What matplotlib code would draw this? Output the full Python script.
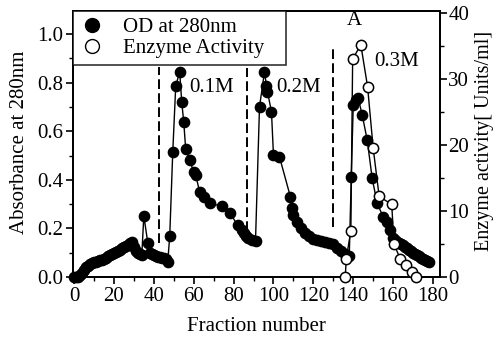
import matplotlib
matplotlib.use("Agg")
import matplotlib.pyplot as plt
from matplotlib.ticker import MultipleLocator
from matplotlib.lines import Line2D

plt.rcParams['font.family'] = ['Liberation Serif', 'DejaVu Serif']

# OD at 280 nm (left axis)
od_frac = [0, 1, 2, 3, 4, 5, 6, 7, 8, 9, 10, 11, 12, 13, 14, 15, 16, 17, 18, 19,
           20, 21, 22, 23, 24, 25, 26, 27, 28, 29, 30, 31, 32, 33, 34, 35, 37, 38, 39,
           40, 41, 42, 43, 44, 45, 46, 47, 48, 49.5, 51, 53, 54, 55, 56, 58, 60, 61,
           63, 65, 68, 74, 78, 82, 84, 85, 86, 87, 89, 91, 93, 95.5, 96.5, 97, 99,
           100, 103, 108.5, 109.5, 110, 112, 114, 116, 118, 120, 122, 124, 126, 128,
           130, 132, 134, 136, 138, 139, 140, 141.5, 142.5, 144.5, 147, 149.5, 152,
           155, 157, 158.5, 160, 161, 162, 163, 164, 165, 166, 167, 168, 169, 170,
           171, 172, 173, 174, 175, 176, 177, 178]
od_vals = [0.0, 0.0, 0.0, 0.008, 0.018, 0.03, 0.04, 0.046, 0.052, 0.056, 0.060,
           0.063, 0.066, 0.069, 0.072, 0.076, 0.080, 0.085, 0.090, 0.095, 0.100,
           0.104, 0.108, 0.113, 0.118, 0.123, 0.128, 0.133, 0.138, 0.143, 0.125,
           0.108, 0.098, 0.093, 0.092, 0.252, 0.14, 0.10, 0.095, 0.09, 0.087, 0.084,
           0.081, 0.079, 0.077, 0.074, 0.062, 0.17, 0.513, 0.786, 0.845, 0.72, 0.64,
           0.525, 0.48, 0.433, 0.42, 0.35, 0.33, 0.303, 0.292, 0.265, 0.214, 0.193,
           0.18, 0.17, 0.16, 0.152, 0.15, 0.70, 0.845, 0.786, 0.763, 0.68, 0.502,
           0.495, 0.33, 0.283, 0.255, 0.228, 0.20, 0.183, 0.168, 0.158, 0.152, 0.147,
           0.143, 0.14, 0.135, 0.12, 0.105, 0.095, 0.085, 0.41, 0.708, 0.728, 0.735,
           0.667, 0.564, 0.406, 0.303, 0.248, 0.228, 0.193, 0.16, 0.152, 0.146, 0.14,
           0.135, 0.13, 0.124, 0.118, 0.112, 0.106, 0.10, 0.095, 0.09, 0.085, 0.08,
           0.075, 0.07, 0.066, 0.062]

# Enzyme activity (right axis)
act_frac = [136, 136.5, 138.8, 139.7, 143.8, 147.2, 150, 153, 159.3, 160.4,
            163.5, 166.2, 169.3, 171.3]
act_vals = [0, 2.8, 7.0, 33, 35.2, 28.8, 19.5, 12.2, 11.0, 5.0, 2.8, 1.8, 0.8, 0]

# Salt step boundaries (dashed lines) and labels
step_x = [42.8, 86.6, 130.0]
step_ymin = [0.14, 0.19, 0.205]
step_ymax = [0.865, 0.86, 0.94]
step_labels = ["0.1M", "0.2M", "0.3M"]
label_x = [69.0, 112.5, 162.0]
label_y = [0.78, 0.78, 0.885]

x_ticks = list(range(0, 181, 20))
fs = 15

fig = plt.figure(figsize=(4.94, 3.38), dpi=100)
ax = fig.add_axes([0.1478, 0.1805, 0.7429, 0.787])
ax2 = ax.twinx()

ax.plot(od_frac, od_vals, color='black', lw=1.0, marker='o', ms=7.4,
        mfc='black', mec='black', zorder=3, clip_on=False)
ax2.plot(act_frac, act_vals, color='black', lw=1.0, marker='o', ms=7.4,
         mfc='white', mec='black', mew=1.1, zorder=4, clip_on=False)

for xv, y0, y1 in zip(step_x, step_ymin, step_ymax):
    ax.plot([xv, xv], [y0, y1], color='black', lw=1.4, ls=(0, (5, 2.2)))
for xv, yv, t in zip(label_x, label_y, step_labels):
    ax.text(xv, yv, t, fontsize=fs, ha='center', va='center')
ax.text(140.5, 1.055, "A", fontsize=fs, ha='center', va='center')

ax.set_xlim(-0.5, 183.5)
ax.set_ylim(0, 1.095)
ax2.set_ylim(0, 40.3)
ax.set_xticks(x_ticks)
ax.xaxis.set_minor_locator(MultipleLocator(10))
ax.set_yticks([0.0, 0.2, 0.4, 0.6, 0.8, 1.0])
ax.set_yticklabels(["0.0", "0.2", "0.4", "0.6", "0.8", "1.0"])
ax.yaxis.set_minor_locator(MultipleLocator(0.1))
ax2.set_yticks([0, 10, 20, 30, 40])
ax2.yaxis.set_minor_locator(MultipleLocator(5))

for a in (ax, ax2):
    a.tick_params(which='major', direction='out', length=5, width=1.2, labelsize=fs, pad=2)
    a.tick_params(which='minor', direction='out', length=3, width=1.0)
    for s in a.spines.values():
        s.set_linewidth(1.3)
ax2.tick_params(which='major', pad=1)

ax.set_xlabel("Fraction number", fontsize=fs, labelpad=8)
ax.set_ylabel("Absorbance at 280nm", fontsize=fs)
ax.yaxis.set_label_coords(-0.12, 0.505)
ax2.set_ylabel("Enzyme activity[ Units/ml]", fontsize=14.5)
ax2.yaxis.set_label_coords(1.094, 0.51)

handles = [Line2D([], [], ls='none', marker='o', ms=10, mfc='black', mec='black'),
           Line2D([], [], ls='none', marker='o', ms=10, mfc='white', mec='black', mew=1.0)]
leg = ax2.legend(handles, ["OD at 280nm", "Enzyme Activity   "], loc='upper left',
                 bbox_to_anchor=(0, 1), borderaxespad=0, fontsize=fs, frameon=True,
                 fancybox=False, edgecolor='black', handletextpad=0.9, handlelength=1.2,
                 labelspacing=0.1, borderpad=0.3)
leg.get_frame().set_linewidth(1.2)
leg.set_zorder(10)

fig.savefig("out.png", dpi=100)
